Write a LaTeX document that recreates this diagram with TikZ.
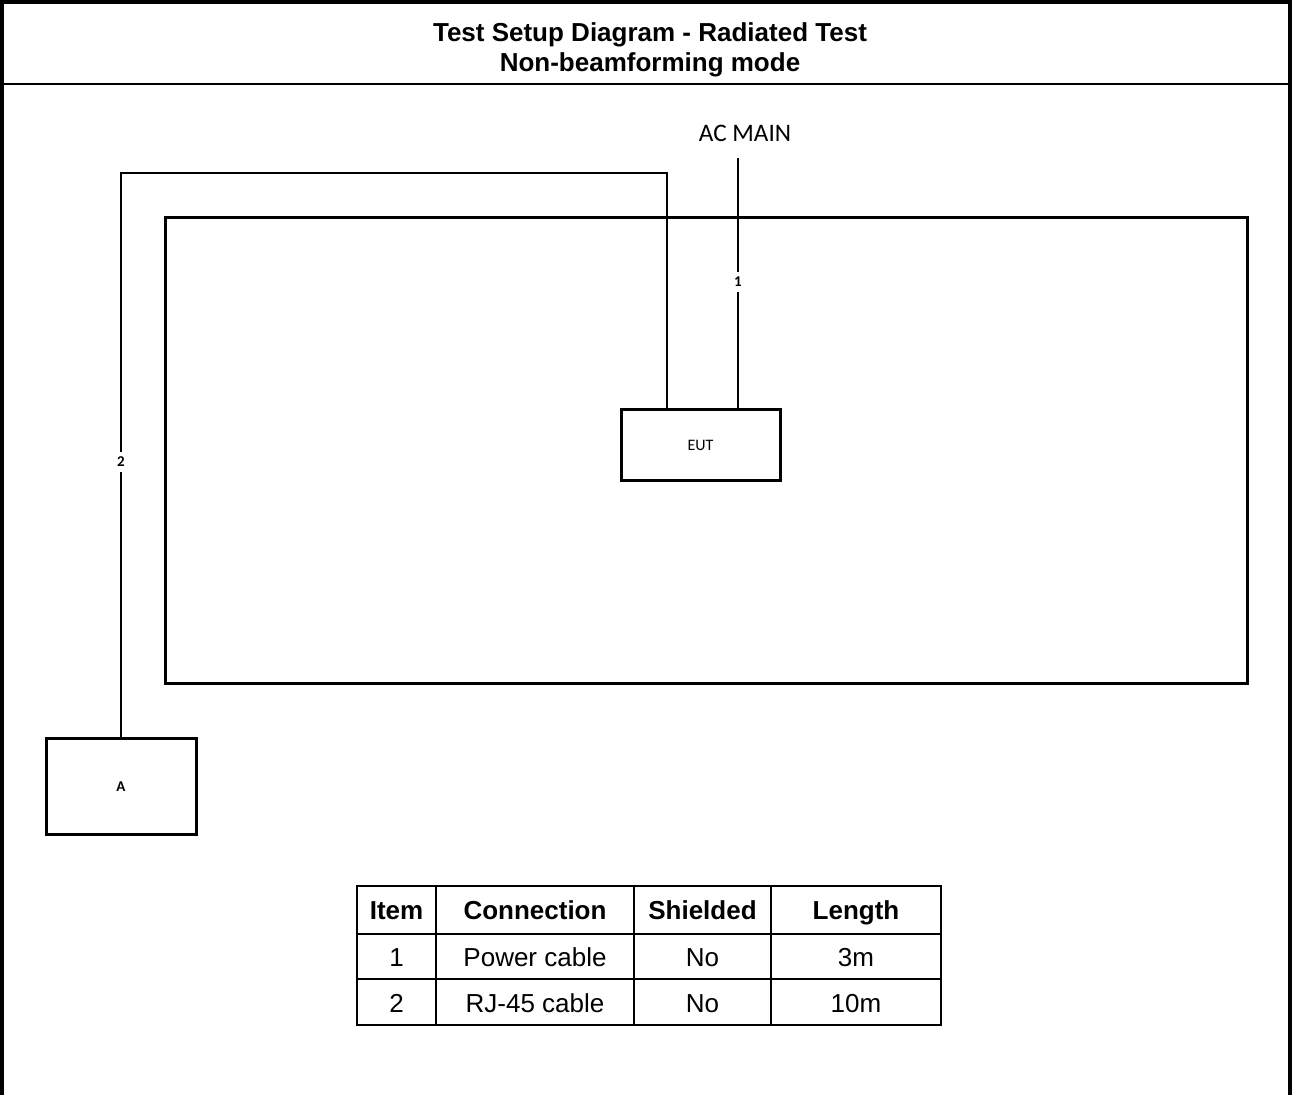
\documentclass[tikz,border=0pt]{standalone}
\usepackage{fontspec}
\setmainfont{Liberation Sans}
\newfontfamily\calfont{Carlito}
\begin{document}
\begin{tikzpicture}[x=0.5pt,y=-0.5pt,
  frameline/.style={line width=2pt},
  boxline/.style={draw,line width=1.5pt,inner sep=0pt},
  cable/.style={line width=0.75pt},
  tiny/.style={font=\calfont\bfseries\fontsize{7.5}{8}\selectfont,inner sep=0pt,minimum height=10pt},
  cell/.style={font=\fontsize{13}{15}\selectfont,inner sep=0pt,text height=9.4pt,text depth=0pt},
  hcell/.style={font=\bfseries\fontsize{13}{15}\selectfont,inner sep=0pt,text height=9.4pt,text depth=0pt},
  tabline/.style={line width=1pt}]
\useasboundingbox (0,0) rectangle (1292,1095);
% outer frame
\draw[frameline] (2,1095) -- (2,2) -- (1290,2) -- (1290,1095);
\draw[line width=1pt] (2,84) -- (1290,84);
\node[font=\bfseries\fontsize{13}{15}\selectfont,align=center,inner sep=0pt] (title) at (650,50)
  {Test Setup Diagram - Radiated Test\\Non-beamforming mode};
% room
\node[boxline,minimum width=541pt,minimum height=233pt] (room) at (706,451) {};
% EUT
\node[boxline,minimum width=79.5pt,minimum height=35.5pt,font=\calfont\fontsize{8}{9}\selectfont] (eut) at (700.5,445.5) {EUT};
% A
\node[boxline,minimum width=75pt,minimum height=48pt,font=\calfont\bfseries\fontsize{7.5}{9}\selectfont] (a) at (121,787) {A};
% AC MAIN
\node[font=\calfont\fontsize{12.6}{14}\selectfont,inner sep=0pt] (ac) at (745,133) {AC MAIN};
\coordinate (actop) at (738,158);
\node[tiny] (l1) at (738,282) {1};
\draw[cable] (actop) -- (l1.north);
\draw[cable] (l1.south) -- (l1 |- eut.north);
% cable 2
\coordinate (c2r) at (667,173);
\coordinate (c2l) at (121,173);
\node[tiny] (l2) at (121,462) {2};
\draw[cable] (c2r |- eut.north) -- (c2r) -- (c2l) -- (l2.north);
\draw[cable] (l2.south) -- (a.north);
% table
\draw[tabline] (357,886) rectangle (941,1025);
\draw[tabline] (357,934) -- (941,934);
\draw[tabline] (357,979) -- (941,979);
\draw[tabline] (436,886) -- (436,1025);
\draw[tabline] (634,886) -- (634,1025);
\draw[tabline] (771,886) -- (771,1025);
\node[hcell] (h1) at (396.5,910) {Item};
\node[hcell] (h2) at (535,910) {Connection};
\node[hcell] (h3) at (702.5,910) {Shielded};
\node[hcell] (h4) at (856,910) {Length};
\node[cell] (r11) at (396.5,957) {1};
\node[cell] (r12) at (535,957) {Power cable};
\node[cell] (r13) at (702.5,957) {No};
\node[cell] (r14) at (856,957) {3m};
\node[cell] (r21) at (396.5,1003) {2};
\node[cell] (r22) at (535,1003) {RJ-45 cable};
\node[cell] (r23) at (702.5,1003) {No};
\node[cell] (r24) at (856,1003) {10m};
\end{tikzpicture}
\end{document}
